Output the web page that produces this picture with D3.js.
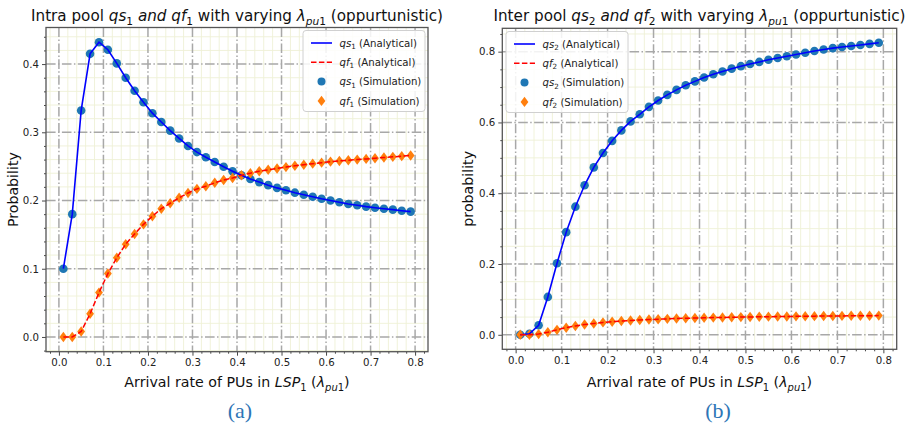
<!DOCTYPE html>
<html><head><meta charset="utf-8">
<script src="https://cdn.jsdelivr.net/npm/d3@7"></script>
<style>
html,body{margin:0;padding:0;background:#fff;}
svg text{font-family:"DejaVu Sans",sans-serif;}
</style></head>
<body>
<svg id="c" width="917" height="427"></svg>
<script>
// ---------- DATA ----------
const lambdaPu1 = [0.01,0.03,0.05,0.07,0.09,0.11,0.13,0.15,0.17,0.19,
                   0.21,0.23,0.25,0.27,0.29,0.31,0.33,0.35,0.37,0.39,
                   0.41,0.43,0.45,0.47,0.49,0.51,0.53,0.55,0.57,0.59,
                   0.61,0.63,0.65,0.67,0.69,0.71,0.73,0.75,0.77,0.79];
const qs1 = [0.100,0.180,0.332,0.415,0.432,0.421,0.401,0.380,0.361,0.344,
             0.328,0.315,0.3025,0.291,0.280,0.271,0.2635,0.2565,0.2495,0.243,
             0.237,0.2315,0.227,0.2225,0.2185,0.215,0.2115,0.2085,0.2055,0.2025,
             0.200,0.1975,0.195,0.193,0.191,0.1895,0.188,0.1866,0.1851,0.1837];
const qf1 = [0.000,0.000,0.008,0.034,0.065,0.093,0.116,0.136,0.151,0.165,
             0.177,0.188,0.196,0.204,0.211,0.217,0.221,0.226,0.230,0.233,
             0.237,0.240,0.243,0.245,0.247,0.249,0.251,0.2525,0.254,0.2555,
             0.257,0.258,0.259,0.260,0.261,0.262,0.263,0.264,0.265,0.266];
const qs2 = [0.000,0.003,0.027,0.107,0.202,0.290,0.362,0.4225,0.473,0.5135,
             0.548,0.5775,0.603,0.623,0.644,0.662,0.678,0.692,0.705,0.716,
             0.727,0.736,0.744,0.752,0.759,0.765,0.771,0.777,0.782,0.787,
             0.792,0.797,0.802,0.806,0.810,0.813,0.816,0.819,0.822,0.825];
const qf2 = [0.000,0.000,0.002,0.007,0.014,0.020,0.025,0.029,0.032,0.035,
             0.037,0.039,0.0405,0.042,0.043,0.044,0.045,0.046,0.0467,0.0474,
             0.048,0.0486,0.049,0.0495,0.050,0.0504,0.0508,0.0512,0.0515,0.0518,
             0.0521,0.0524,0.0527,0.053,0.0532,0.0534,0.0536,0.0538,0.054,0.0542];
const xTicks = [0.0,0.1,0.2,0.3,0.4,0.5,0.6,0.7,0.8];
const yTicksA = [0.0,0.1,0.2,0.3,0.4];
const yTicksB = [0.0,0.2,0.4,0.6,0.8];
const legendA = [["qs","1"," (Analytical)"],["qf","1"," (Analytical)"],["qs","1"," (Simulation)"],["qf","1"," (Simulation)"]];
const legendB = [["qs","2"," (Analytical)"],["qf","2"," (Analytical)"],["qs","2"," (Simulation)"],["qf","2"," (Simulation)"]];

// ---------- DRAW ----------
const svg = d3.select("#c");

function addRich(textSel, parts, subSize){
  parts.forEach(p=>{
    const s=textSel.append("tspan").text(p.t);
    if(p.i) s.style("font-style","italic");
    if(p.sub){ s.style("font-size",subSize+"px"); if(!p.nd) s.attr("dy",3.5); }
    if(p.up) s.attr("dy",-3.5);
  });
}

function panel(cfg){
  const g = svg.append("g");
  const x = d3.scaleLinear().domain([-0.029,0.829]).range([cfg.x0,cfg.x1]);
  const y = d3.scaleLinear().domain(cfg.ydom).range([cfg.y1,cfg.y0]);
  const eps=1e-9;
  const isMaj=(v,arr)=>arr.some(t=>Math.abs(t-v)<eps);
  // minor grid
  const xMinor = d3.range(-0.02,0.8201,0.02).map(v=>+v.toFixed(2)).filter(v=>x(v)>cfg.x0&&x(v)<cfg.x1);
  const yMinor = d3.range(-0.1,1.0,cfg.ym).map(v=>+v.toFixed(3)).filter(v=>y(v)>cfg.y0&&y(v)<cfg.y1);
  const gm = g.append("g").attr("stroke","#eef0d6").attr("stroke-width",0.9);
  gm.selectAll("line.vx").data(xMinor.filter(v=>!isMaj(v,xTicks))).join("line")
    .attr("x1",d=>x(d)).attr("x2",d=>x(d)).attr("y1",cfg.y0).attr("y2",cfg.y1);
  gm.selectAll("line.hy").data(yMinor.filter(v=>!isMaj(v,cfg.yt))).join("line")
    .attr("y1",d=>y(d)).attr("y2",d=>y(d)).attr("x1",cfg.x0).attr("x2",cfg.x1);
  // major grid
  const gM = g.append("g").attr("stroke","#a8a8a8").attr("stroke-width",1.5).attr("stroke-dasharray","9.6,2.4,1.5,2.4");
  gM.selectAll("line.vx").data(xTicks).join("line")
    .attr("x1",d=>x(d)).attr("x2",d=>x(d)).attr("y1",cfg.y0).attr("y2",cfg.y1);
  gM.selectAll("line.hy").data(cfg.yt).join("line")
    .attr("y1",d=>y(d)).attr("y2",d=>y(d)).attr("x1",cfg.x0).attr("x2",cfg.x1);

  // markers (scatter below lines)
  const idx = d3.range(lambdaPu1.length);
  g.append("g").selectAll("circle").data(idx).join("circle")
    .attr("cx",i=>x(lambdaPu1[i])).attr("cy",i=>y(cfg.qs[i])).attr("r",4.3).attr("fill","#1f77b4");
  g.append("g").selectAll("path").data(idx).join("path")
    .attr("transform",i=>`translate(${x(lambdaPu1[i])},${y(cfg.qf[i])})`)
    .attr("d","M0,-5.2L3.9,0L0,5.2L-3.9,0Z").attr("fill","#ff7f0e");
  // lines
  const line = d3.line().x(d=>x(d[0])).y(d=>y(d[1]));
  g.append("path").datum(lambdaPu1.map((v,i)=>[v,cfg.qs[i]])).attr("d",line)
    .attr("fill","none").attr("stroke","#0000ff").attr("stroke-width",1.6);
  g.append("path").datum(lambdaPu1.map((v,i)=>[v,cfg.qf[i]])).attr("d",line)
    .attr("fill","none").attr("stroke","#ff0000").attr("stroke-width",1.5).attr("stroke-dasharray","5.5,2.4");

  // axes
  const ax = g.append("g").attr("transform",`translate(0,${cfg.y1})`)
    .call(d3.axisBottom(x).tickValues(xTicks).tickSize(4).tickPadding(3).tickFormat(d3.format(".1f")));
  const axm = g.append("g").attr("transform",`translate(0,${cfg.y1})`)
    .call(d3.axisBottom(x).tickValues(xMinor.filter(v=>!isMaj(v,xTicks))).tickSize(2).tickFormat(""));
  const ay = g.append("g").attr("transform",`translate(${cfg.x0},0)`)
    .call(d3.axisLeft(y).tickValues(cfg.yt).tickSize(4).tickPadding(3).tickFormat(d3.format(".1f")));
  const aym = g.append("g").attr("transform",`translate(${cfg.x0},0)`)
    .call(d3.axisLeft(y).tickValues(yMinor.filter(v=>!isMaj(v,cfg.yt))).tickSize(2).tickFormat(""));
  [ax,axm,ay,aym].forEach(a=>{a.select(".domain").remove();
    a.selectAll(".tick line").attr("stroke","#333").attr("stroke-width",0.9);
    a.selectAll("text").attr("fill","#222").style("font-size","10.2px").style("font-family","DejaVu Sans");});

  // frame
  g.append("rect").attr("x",cfg.x0).attr("y",cfg.y0).attr("width",cfg.x1-cfg.x0).attr("height",cfg.y1-cfg.y0)
    .attr("fill","none").attr("stroke","#555").attr("stroke-width",1.3);

  // title
  const cx=(cfg.x0+cfg.x1)/2;
  const t = g.append("text").attr("x",cx).attr("y",21).attr("text-anchor","middle")
    .style("font-size","15.2px").attr("fill","#111");
  addRich(t, cfg.title, 10.6);
  // x label
  const xl = g.append("text").attr("x",cx).attr("y",387).attr("text-anchor","middle")
    .style("font-size","14.2px").attr("fill","#111");
  addRich(xl, [{t:"Arrival rate of PUs in "},{t:"LSP",i:1},{t:"1",sub:1},{t:" (",up:1},{t:"λ",i:1},{t:"pu",i:1,sub:1},{t:"1",sub:1,nd:1},{t:")",up:1}], 10);
  // y label
  g.append("text").attr("transform",`translate(${cfg.ylx},${(cfg.y0+cfg.y1)/2}) rotate(-90)`)
    .attr("text-anchor","middle").style("font-size","14.2px").attr("fill","#111").text(cfg.ylabel);

  // legend
  const L=cfg.leg;
  g.append("rect").attr("x",L.x).attr("y",L.y).attr("width",L.w).attr("height",L.h).attr("rx",3)
    .attr("fill","#fff").attr("fill-opacity",0.85).attr("stroke","#d0d0d0").attr("stroke-width",1);
  cfg.legend.forEach((e,k)=>{
    const yy=L.y+12.5+k*19.3, hx=L.x+8;
    if(k===0) g.append("line").attr("x1",hx).attr("x2",hx+21).attr("y1",yy).attr("y2",yy).attr("stroke","#0000ff").attr("stroke-width",1.6);
    if(k===1) g.append("line").attr("x1",hx).attr("x2",hx+21).attr("y1",yy).attr("y2",yy).attr("stroke","#ff0000").attr("stroke-width",1.5).attr("stroke-dasharray","5.5,2.4");
    if(k===2) g.append("circle").attr("cx",hx+10.5).attr("cy",yy).attr("r",4).attr("fill","#1f77b4");
    if(k===3) g.append("path").attr("transform",`translate(${hx+10.5},${yy})`).attr("d","M0,-5.2L3.9,0L0,5.2L-3.9,0Z").attr("fill","#ff7f0e");
    const tx=g.append("text").attr("x",hx+28.5).attr("y",yy+3.6).style("font-size","10.2px").attr("fill","#222");
    tx.append("tspan").text(e[0]).style("font-style","italic");
    tx.append("tspan").text(e[1]).style("font-size","7.2px").attr("dy",2.5);
    tx.append("tspan").text(e[2]).attr("dy",-2.5);
  });

  // subfigure label
  svg.append("text").attr("x",cfg.subx).attr("y",418).attr("text-anchor","middle")
    .style("font-family","'Liberation Serif',serif").style("font-size","22px").attr("fill","#2e75b6").text(cfg.sub);
}

panel({x0:46,x1:428,y0:27.5,y1:351.7,ydom:[-0.0216,0.4536],yt:yTicksA,ym:0.02,qs:qs1,qf:qf1,
  title:[{t:"Intra pool "},{t:"qs",i:1},{t:"1",sub:1},{t:" and ",i:1,up:1},{t:"qf",i:1},{t:"1",sub:1},{t:" with varying ",up:1},{t:"λ",i:1},{t:"pu",i:1,sub:1},{t:"1",sub:1,nd:1},{t:" (oppurtunistic)",up:1}],
  ylabel:"Probability",ylx:18,leg:{x:303,y:30.5,w:122,h:81},legend:legendA,sub:"(a)",subx:240});
panel({x0:502.3,x1:896.7,y0:28.3,y1:349.3,ydom:[-0.041,0.866],yt:yTicksB,ym:0.05,qs:qs2,qf:qf2,
  title:[{t:"Inter pool "},{t:"qs",i:1},{t:"2",sub:1},{t:" and ",i:1,up:1},{t:"qf",i:1},{t:"2",sub:1},{t:" with varying ",up:1},{t:"λ",i:1},{t:"pu",i:1,sub:1},{t:"1",sub:1,nd:1},{t:" (oppurtunistic)",up:1}],
  ylabel:"probability",ylx:473,leg:{x:506,y:31.5,w:122,h:81},legend:legendB,sub:"(b)",subx:718});
</script>
</body></html>
